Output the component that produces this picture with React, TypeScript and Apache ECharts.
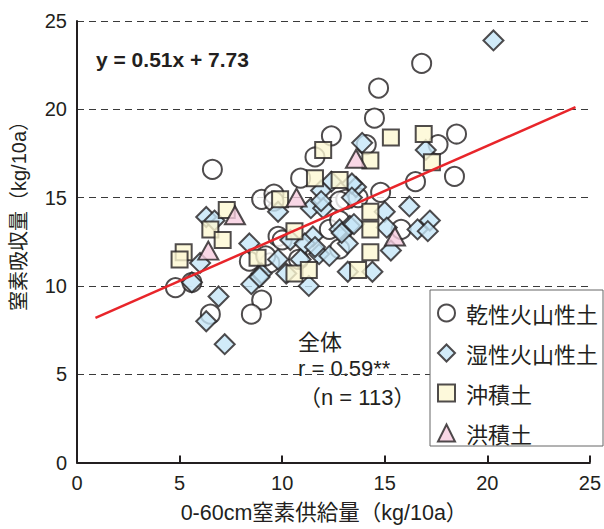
import React, { useEffect, useRef } from "react";
import * as echarts from "echarts";

// 乾性火山性土 (circles)
const dryVolcanic: number[][] = [
  [6.6, 16.6], [9.0, 14.9], [9.6, 15.2], [9.6, 14.8], [4.8, 9.9], [5.6, 10.2],
  [6.5, 8.4], [8.4, 11.4], [9.0, 9.2], [8.5, 8.4], [9.8, 12.8], [9.4, 11.3],
  [14.5, 19.5], [12.4, 18.5], [11.6, 17.3], [14.1, 18.0], [10.9, 16.1], [14.8, 15.3],
  [16.5, 15.9], [13.1, 14.9], [13.7, 15.0], [15.8, 13.2], [12.8, 12.1], [16.8, 22.6],
  [14.7, 21.2], [18.5, 18.6], [17.6, 18.0], [18.4, 16.2], [12.8, 14.8], [12.3, 13.2],
  [12.8, 13.7], [9.2, 11.7], [10.8, 11.5], [10.0, 12.6],
];
// 湿性火山性土 (diamonds)
const wetVolcanic: number[][] = [
  [6.3, 13.9], [6.0, 11.3], [5.6, 10.2], [6.9, 9.4], [6.3, 8.0], [7.2, 6.7],
  [8.4, 12.4], [9.0, 10.7], [8.5, 10.1], [9.8, 11.5], [10.2, 10.7], [9.8, 14.2],
  [17.0, 17.7], [13.9, 18.1], [12.4, 15.9], [13.6, 15.6], [11.9, 15.4], [16.2, 14.5],
  [11.4, 14.4], [12.0, 14.4], [15.0, 14.2], [15.1, 13.3], [16.6, 13.2], [17.2, 13.7],
  [17.1, 13.1], [15.3, 12.0], [13.2, 12.4], [12.8, 13.2], [13.3, 13.4], [11.5, 12.8],
  [11.8, 11.8], [12.3, 11.7], [10.4, 12.6], [11.3, 10.0], [13.2, 10.8], [14.4, 10.8],
  [20.3, 23.9], [11.9, 14.8], [13.4, 15.8], [11.1, 12.4], [11.6, 12.2], [12.9, 13.0],
  [13.5, 13.5], [8.9, 10.5], [10.9, 11.5], [6.7, 13.7], [13.4, 15.0],
];
// 沖積土 (squares)
const alluvial: number[][] = [
  [9.9, 14.9], [7.3, 14.3], [6.5, 13.2], [7.1, 12.6], [5.2, 11.9], [5.0, 11.5],
  [8.8, 11.6], [10.6, 13.1], [10.6, 10.7], [15.3, 18.4], [16.9, 18.6], [17.3, 17.0],
  [12.0, 17.7], [14.3, 17.1], [11.6, 16.1], [12.8, 16.0], [14.3, 14.2], [14.3, 13.2],
  [14.3, 11.9], [11.3, 10.9], [13.7, 10.9],
];
// 洪積土 (triangles)
const diluvial: number[][] = [
  [10.7, 15.0], [7.7, 14.0], [6.4, 12.0], [13.6, 17.2], [15.5, 12.8],
];

const seriesNames = ["乾性火山性土", "湿性火山性土", "沖積土", "洪積土"];
const slope = 0.51;
const intercept = 7.73;
const lineX = [0.9, 24.3];
const axisTicks = [0, 5, 10, 15, 20, 25];

const FONT = "'Liberation Sans', 'Noto Sans CJK JP', sans-serif";
const CJK = "'Noto Sans CJK JP', sans-serif";
const INK = "#231f20";

export default function App() {
  const ref = useRef<HTMLDivElement>(null);
  useEffect(() => {
    if (!ref.current) return;
    const chart = echarts.init(ref.current, undefined, { renderer: "svg" });
    const border = { borderColor: INK, borderWidth: 2 };
    chart.setOption({
      animation: false,
      backgroundColor: "#ffffff",
      textStyle: { fontFamily: FONT },
      grid: { left: 77, right: 12, top: 21, bottom: 66.5, containLabel: false },
      xAxis: {
        type: "value",
        min: axisTicks[0],
        max: axisTicks[axisTicks.length - 1],
        interval: 5,
        axisLine: { show: true, onZero: false, lineStyle: { color: INK, width: 2 } },
        axisTick: { show: true, inside: true, length: 7, lineStyle: { color: INK, width: 2 } },
        axisLabel: { color: INK, fontSize: 20, margin: 10, fontFamily: FONT },
        splitLine: { show: false },
      },
      yAxis: {
        type: "value",
        min: axisTicks[0],
        max: axisTicks[axisTicks.length - 1],
        interval: 5,
        axisLine: { show: true, lineStyle: { color: INK, width: 2 } },
        axisTick: { show: false },
        axisLabel: { color: INK, fontSize: 20, margin: 10, fontFamily: FONT },
        splitLine: { show: true, lineStyle: { color: "#3a3a3a", width: 1, type: [7, 5] } },
      },
      legend: {
        show: true,
        orient: "vertical",
        left: 430,
        top: 290,
        padding: [12, 5, 2, 7],
        itemGap: 18,
        itemWidth: 17,
        itemHeight: 17,
        borderColor: "#666",
        borderWidth: 1,
        borderRadius: 0,
        backgroundColor: "#ffffff",
        data: seriesNames,
        textStyle: { fontSize: 22, color: INK, fontFamily: CJK, padding: [0, 0, 0, 6] },
      },
      series: [
        {
          name: seriesNames[0],
          type: "scatter",
          symbol: "circle",
          symbolSize: 19,
          data: dryVolcanic,
          itemStyle: { color: "#ffffff", ...border },
          z: 2,
        },
        {
          name: seriesNames[1],
          type: "scatter",
          symbol: "diamond",
          symbolSize: 20,
          data: wetVolcanic,
          itemStyle: { color: "#c6e6f7", ...border },
          z: 3,
        },
        {
          name: seriesNames[2],
          type: "scatter",
          symbol: "rect",
          symbolSize: 16,
          data: alluvial,
          itemStyle: { color: "#fdf8d2", ...border },
          z: 4,
        },
        {
          name: seriesNames[3],
          type: "scatter",
          symbol: "triangle",
          symbolSize: [20, 18],
          data: diluvial,
          itemStyle: { color: "#f7cde0", ...border },
          z: 5,
        },
        {
          name: "回帰直線",
          type: "line",
          data: lineX.map((x) => [x, slope * x + intercept]),
          symbol: "none",
          lineStyle: { color: "#e8252a", width: 2.5 },
          z: 10,
          silent: true,
        },
      ],
      graphic: [
        {
          type: "text",
          x: 96,
          y: 59,
          style: { text: "y = 0.51x + 7.73", font: `bold 21px ${FONT}`, fill: INK, textVerticalAlign: "middle" },
        },
        {
          type: "text",
          x: 298,
          y: 340,
          style: { text: "全体", font: `22px ${CJK}`, fill: INK, textVerticalAlign: "middle" },
        },
        {
          type: "text",
          x: 294,
          y: 368,
          style: {
            text: "r = 0.59**",
            font: `22px ${FONT}`,
            fill: INK,
            textVerticalAlign: "middle",
            backgroundColor: "#ffffff",
            padding: [2, 4, 2, 4],
          },
        },
        {
          type: "text",
          x: 299,
          y: 397,
          style: { text: "（n = 113）", font: `22px ${FONT}`, fill: INK, textVerticalAlign: "middle" },
        },
        {
          type: "text",
          x: 19,
          y: 211,
          rotation: Math.PI / 2,
          style: {
            text: "窒素吸収量（kg/10a）",
            font: `20px ${FONT}`,
            fill: INK,
            textAlign: "center",
            textVerticalAlign: "middle",
          },
        },
        {
          type: "text",
          x: 324,
          y: 513,
          style: {
            text: "0-60cm窒素供給量（kg/10a）",
            font: `21.5px ${FONT}`,
            fill: INK,
            textAlign: "center",
            textVerticalAlign: "middle",
          },
        },
      ],
    });
    return () => chart.dispose();
  }, []);
  return (
    <div
      ref={ref}
      style={{ position: "fixed", left: 0, top: 0, width: 604, height: 529 }}
    />
  );
}
